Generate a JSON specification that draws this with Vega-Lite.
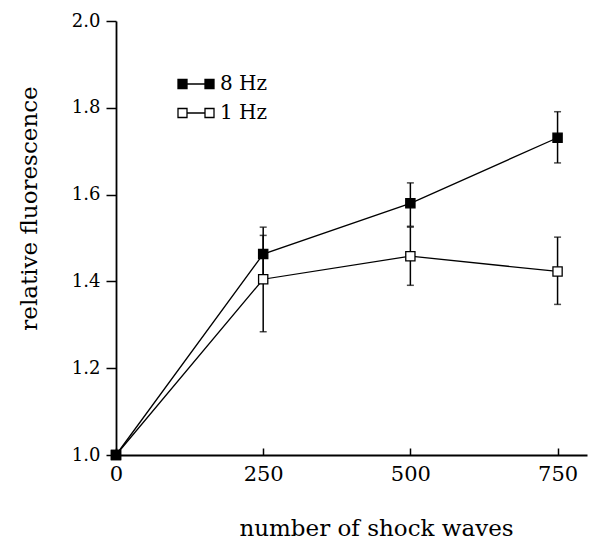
{
  "$schema": "https://vega.github.io/schema/vega-lite/v6.json",
  "autosize": {"type": "none"},
  "width": 471,
  "height": 434,
  "padding": {"left": 116, "top": 21, "right": 2, "bottom": 84},
  "background": "white",
  "config": {
    "view": {"stroke": null},
    "font": "DejaVu Serif",
    "axis": {"grid": false, "domainColor": "black", "tickColor": "black", "labelColor": "black", "titleColor": "black", "labelFont": "DejaVu Serif", "titleFont": "DejaVu Serif", "titleFontWeight": "normal"}
  },
  "data": {
    "values": [
      {"series": "1 Hz", "shocks": 0, "fluor": 1.0, "lo": null, "hi": null},
      {"series": "1 Hz", "shocks": 250, "fluor": 1.405, "lo": 1.284, "hi": 1.506},
      {"series": "1 Hz", "shocks": 500, "fluor": 1.458, "lo": 1.391, "hi": 1.525},
      {"series": "1 Hz", "shocks": 750, "fluor": 1.423, "lo": 1.347, "hi": 1.502},
      {"series": "8 Hz", "shocks": 0, "fluor": 1.0, "lo": null, "hi": null},
      {"series": "8 Hz", "shocks": 250, "fluor": 1.463, "lo": 1.405, "hi": 1.525},
      {"series": "8 Hz", "shocks": 500, "fluor": 1.580, "lo": 1.527, "hi": 1.627},
      {"series": "8 Hz", "shocks": 750, "fluor": 1.731, "lo": 1.673, "hi": 1.791}
    ]
  },
  "encoding": {
    "x": {
      "field": "shocks", "type": "quantitative",
      "scale": {"domain": [0, 800], "nice": false, "zero": false},
      "axis": {
        "values": [0, 250, 500, 750], "title": "number of shock waves",
        "domainWidth": 1.8, "tickWidth": 1.5, "tickSize": -7,
        "labelFontSize": 21, "labelPadding": 32, "labelBaseline": "alphabetic", "labelFlush": false,
        "titleFontSize": 23, "titleX": 260, "titleY": 80, "titleBaseline": "alphabetic", "titleAlign": "center"
      }
    },
    "y": {
      "field": "fluor", "type": "quantitative",
      "scale": {"domain": [1.0, 2.0], "nice": false, "zero": false},
      "axis": {
        "values": [1.0, 1.2, 1.4, 1.6, 1.8, 2.0], "format": ".1f", "title": "relative fluorescence",
        "domainWidth": 1.8, "tickWidth": 1.5, "tickSize": 10, "labelPadding": 6,
        "labelFontSize": 18, "labelFlush": false,
        "titleFontSize": 23, "titleX": -80, "titleY": 187, "titleBaseline": "alphabetic", "titleAlign": "center", "titleAngle": -90
      }
    }
  },
  "layer": [
    {
      "mark": {"type": "line", "color": "black", "strokeWidth": 1.3},
      "encoding": {"detail": {"field": "series"}}
    },
    {
      "transform": [{"filter": "datum.lo != null"}],
      "mark": {"type": "rule", "color": "black", "strokeWidth": 1.5},
      "encoding": {"y": {"field": "lo", "type": "quantitative"}, "y2": {"field": "hi"}}
    },
    {
      "transform": [{"filter": "datum.lo != null"}],
      "mark": {"type": "tick", "orient": "horizontal", "color": "black", "size": 7, "thickness": 1.5},
      "encoding": {"y": {"field": "lo", "type": "quantitative"}}
    },
    {
      "transform": [{"filter": "datum.hi != null"}],
      "mark": {"type": "tick", "orient": "horizontal", "color": "black", "size": 7, "thickness": 1.5},
      "encoding": {"y": {"field": "hi", "type": "quantitative"}}
    },
    {
      "mark": {"type": "point", "shape": "square", "size": 85, "stroke": "black", "strokeWidth": 1.3, "opacity": 1, "filled": false},
      "encoding": {
        "fill": {
          "field": "series", "type": "nominal",
          "scale": {"domain": ["8 Hz", "1 Hz"], "range": ["black", "white"]},
          "legend": {
            "title": null, "orient": "none", "legendX": 61, "legendY": 44,
            "symbolType": "M-1,-0.25H-0.5V0.25H-1Z M-0.5,0H0.5 M0.5,-0.25H1V0.25H0.5Z",
            "symbolSize": 1296, "symbolStrokeColor": "black", "symbolStrokeWidth": 1.3, "symbolOpacity": 1,
            "labelFont": "DejaVu Serif", "labelFontSize": 20, "labelColor": "black", "labelOffset": 5,
            "rowPadding": -6, "padding": 0
          }
        }
      }
    }
  ]
}
